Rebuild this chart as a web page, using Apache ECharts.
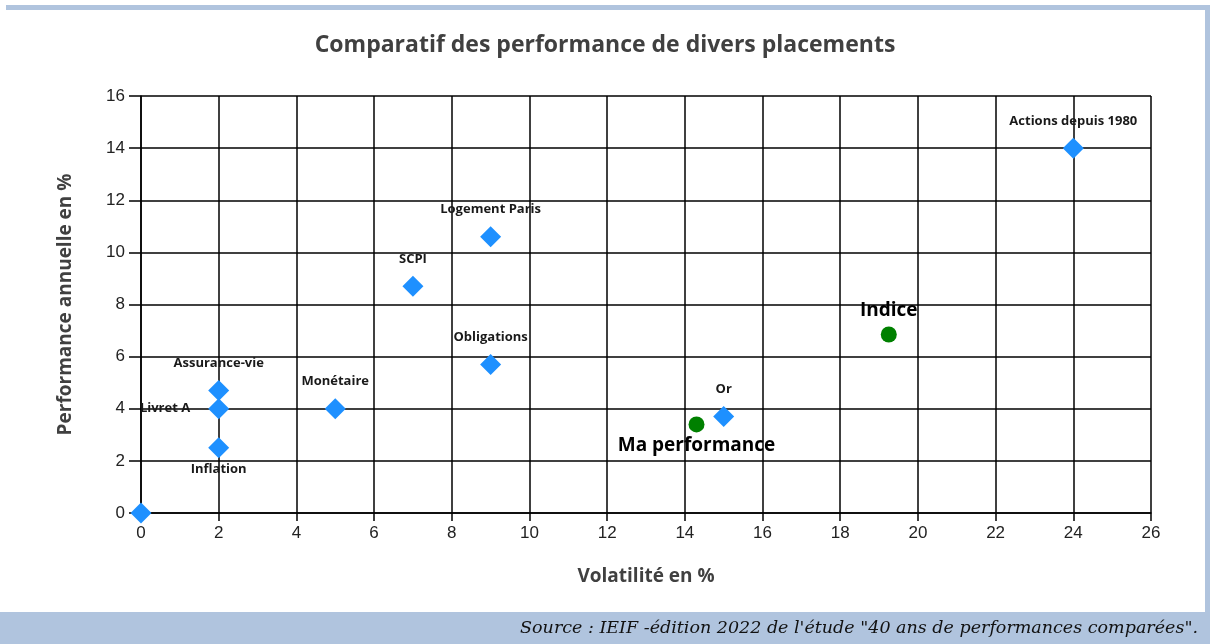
<!DOCTYPE html>
<html><head><meta charset="utf-8">
<script src="https://cdn.jsdelivr.net/npm/echarts@6/dist/echarts.min.js"></script>
<style>html,body{margin:0;padding:0;background:#fff}#c{width:1210px;height:644px}</style>
</head><body><div id="c"></div>
<script>
// Data
const placementNames = ["Actions depuis 1980","Logement Paris","SCPI","Obligations","Assurance-vie","Monétaire","Livret A","Or","Inflation",""];
const placementVol   = [24, 9, 7, 9, 2, 5, 2, 15, 2, 0];
const placementPerf  = [14, 10.6, 8.7, 5.7, 4.7, 4.0, 4.0, 3.7, 2.5, 0];
const refNames = ["Indice","Ma performance"];
const refVol   = [19.25, 14.3];
const refPerf  = [6.85, 3.4];
const xTicks = [0,2,4,6,8,10,12,14,16,18,20,22,24,26];
const yTicks = [0,2,4,6,8,10,12,14,16];

const labelPos = {"Livret A":"left","Inflation":"bottom","Ma performance":"bottom"};
const labelDist = {"Livret A":18,"Inflation":4};

const chart = echarts.init(document.getElementById('c'));
const smallLabel = {fontFamily:'Open Sans', fontWeight:'bold', fontSize:13, color:'#1a1a1a'};
const bigLabel = {fontFamily:'Open Sans', fontWeight:'bold', fontSize:19, color:'#000'};

chart.setOption({
  animation:false,
  title:{text:'Comparatif des performance de divers placements', left:'center', top:29,
    textStyle:{fontFamily:'Open Sans', fontWeight:'bold', fontSize:23, color:'#404040'}},
  graphic:[
    {type:'rect', shape:{x:6,y:5,width:1204,height:5}, style:{fill:'#b0c4de'}, silent:true},
    {type:'rect', shape:{x:1205,y:5,width:5,height:610}, style:{fill:'#b0c4de'}, silent:true},
    {type:'rect', shape:{x:0,y:612,width:1210,height:32}, style:{fill:'#b0c4de'}, silent:true},
    {type:'text', right:12, top:619, style:{text:'Source : IEIF -édition 2022 de l\'étude "40 ans de performances comparées".',
      font:'italic 17.5px "DejaVu Serif"', fill:'#111'}, silent:true}
  ],
  grid:{left:141, right:59, top:96, bottom:131},
  xAxis:{type:'value', min:xTicks[0], max:xTicks[xTicks.length-1], interval:2,
    name:'Volatilité en %', nameLocation:'middle', nameGap:54,
    nameTextStyle:{fontFamily:'Open Sans', fontWeight:'bold', fontSize:19, color:'#404040'},
    axisLine:{show:true, lineStyle:{color:'#000', width:1.5}},
    axisTick:{show:true, length:8, lineStyle:{color:'#000', width:1.5}},
    axisLabel:{fontFamily:'Liberation Sans', fontSize:17, color:'#222', margin:12},
    splitLine:{show:true, lineStyle:{color:'#000', width:1.5}}},
  yAxis:{type:'value', min:yTicks[0], max:yTicks[yTicks.length-1], interval:2,
    name:'Performance annuelle en %', nameLocation:'middle', nameGap:66,
    nameTextStyle:{fontFamily:'Open Sans', fontWeight:'bold', fontSize:19, color:'#404040'},
    axisLine:{show:true, lineStyle:{color:'#000', width:1.5}},
    axisTick:{show:true, length:12, lineStyle:{color:'#000', width:1.5}},
    axisLabel:{fontFamily:'Liberation Sans', fontSize:17, color:'#222', margin:16},
    splitLine:{show:true, lineStyle:{color:'#000', width:1.5}}},
  series:[
    {type:'scatter', symbol:'diamond', symbolSize:21, itemStyle:{color:'#1e90ff', opacity:1},
      data: placementNames.map((n,i)=>({name:n, value:[placementVol[i], placementPerf[i]],
        label:{show:n!=='', formatter:n, position:labelPos[n]||'top', distance:labelDist[n]!==undefined?labelDist[n]:10, ...smallLabel}}))},
    {type:'scatter', symbol:'circle', symbolSize:16, itemStyle:{color:'#008000', opacity:1},
      data: refNames.map((n,i)=>({name:n, value:[refVol[i], refPerf[i]],
        label:{show:true, formatter:n, position:labelPos[n]||'top', distance:labelPos[n]?4:6, ...bigLabel}}))}
  ]
});
</script></body></html>
